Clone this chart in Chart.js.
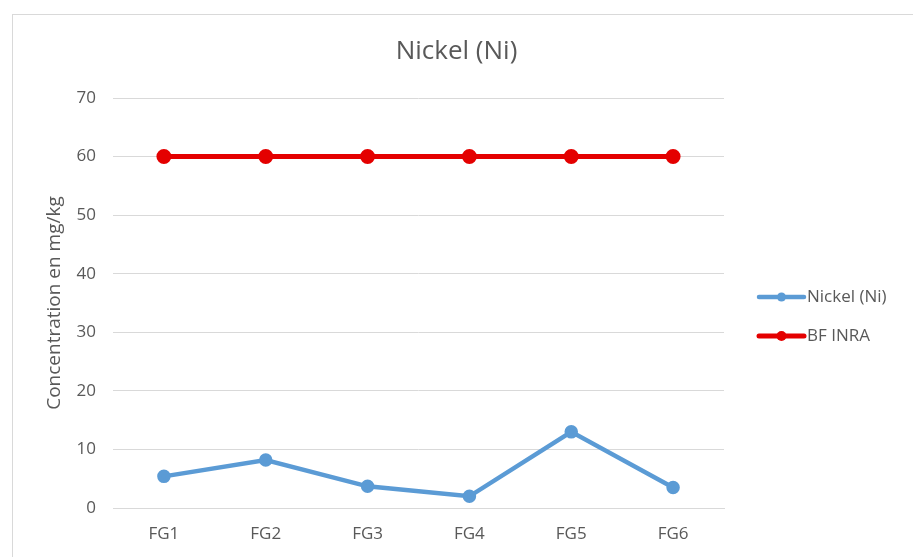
<!DOCTYPE html>
<html>
<head>
<meta charset="utf-8">
<script src="https://cdn.jsdelivr.net/npm/chart.js@4/dist/chart.umd.min.js"></script>
<style>
  html, body { margin: 0; padding: 0; background: #ffffff; }
  #wrap { position: relative; width: 913px; height: 557px; overflow: hidden; }
  #frame { position: absolute; left: 12px; top: 14px; width: 1000px; height: 1000px;
           border-left: 1px solid #d9d9d9; border-top: 1px solid #d9d9d9; }
  canvas { position: absolute; left: 0; top: 0; }
</style>
</head>
<body>
<div id="wrap">
  <div id="frame"></div>
  <canvas id="chart" width="913" height="557"></canvas>
</div>
<script>
// Sampling sites
const categories = ['FG1', 'FG2', 'FG3', 'FG4', 'FG5', 'FG6'];
// Nickel concentration measured at each site (mg/kg)
const nickelValues = [5.4, 8.2, 3.7, 2.0, 13.0, 3.5];
// Background reference level (BF INRA)
const bfInraValues = [60, 60, 60, 60, 60, 60];
// Value axis
const yMin = 0;
const yMax = 70;
const yStep = 10;

const FONT = "'Open Sans', 'DejaVu Sans', sans-serif";
const TEXT = '#595959';

// Legend drawn on the right as line + marker samples
const sideLegend = {
  id: 'sideLegend',
  afterDraw(chart) {
    const ctx = chart.ctx;
    const rows = [297, 336];
    ctx.save();
    chart.data.datasets.forEach((ds, i) => {
      const y = rows[i];
      ctx.strokeStyle = ds.borderColor;
      ctx.lineWidth = ds.borderWidth;
      ctx.lineCap = 'round';
      ctx.beginPath();
      ctx.moveTo(759, y);
      ctx.lineTo(804, y);
      ctx.stroke();
      ctx.fillStyle = ds.pointBackgroundColor;
      ctx.beginPath();
      ctx.arc(781.5, y, ds.pointRadius, 0, Math.PI * 2);
      ctx.fill();
      ctx.fillStyle = TEXT;
      ctx.font = '17px ' + FONT;
      ctx.textBaseline = 'middle';
      ctx.textAlign = 'left';
      ctx.fillText(ds.label, 807, y);
    });
    ctx.restore();
  }
};

new Chart(document.getElementById('chart'), {
  type: 'line',
  data: {
    labels: categories,
    datasets: [
      {
        label: 'Nickel (Ni)',
        data: nickelValues,
        borderColor: '#5b9bd5',
        backgroundColor: '#5b9bd5',
        pointBackgroundColor: '#5b9bd5',
        pointBorderColor: '#5b9bd5',
        borderWidth: 4.5,
        pointRadius: 4.5,
        tension: 0
      },
      {
        label: 'BF INRA',
        data: bfInraValues,
        borderColor: '#e40000',
        backgroundColor: '#e40000',
        pointBackgroundColor: '#e40000',
        pointBorderColor: '#e40000',
        borderWidth: 5,
        pointRadius: 5,
        tension: 0
      }
    ]
  },
  options: {
    responsive: false,
    animation: false,
    devicePixelRatio: 1,
    layout: { padding: 0 },
    plugins: {
      legend: { display: false },
      tooltip: { enabled: false },
      title: {
        display: true,
        text: 'Nickel (Ni)',
        color: TEXT,
        font: { family: FONT, size: 26, weight: 'normal' },
        padding: { top: 36.4, bottom: 30.4 }
      }
    },
    scales: {
      x: {
        offset: true,
        grid: { display: false, drawTicks: false },
        border: { display: true, color: '#d9d9d9', width: 1 },
        ticks: { color: TEXT, font: { family: FONT, size: 17 }, padding: 16 },
        afterFit(scale) { scale.height = 49; }
      },
      y: {
        min: yMin,
        max: yMax,
        ticks: { stepSize: yStep, color: TEXT, font: { family: FONT, size: 17 }, padding: 17 },
        grid: { color: '#d9d9d9', lineWidth: 1, drawTicks: false },
        border: { display: false },
        title: {
          display: true,
          text: 'Concentration en mg/kg',
          color: TEXT,
          font: { family: FONT, size: 19, weight: 'normal' },
          padding: { top: 43.6, bottom: 0 }
        },
        afterFit(scale) { scale.width = 113; }
      },
      // empty band on the right that holds the legend
      legendBand: {
        position: 'right',
        display: true,
        grid: { display: false, drawTicks: false },
        border: { display: false },
        ticks: { display: false },
        afterFit(scale) { scale.width = 189; }
      }
    }
  },
  plugins: [sideLegend]
});
</script>
</body>
</html>
